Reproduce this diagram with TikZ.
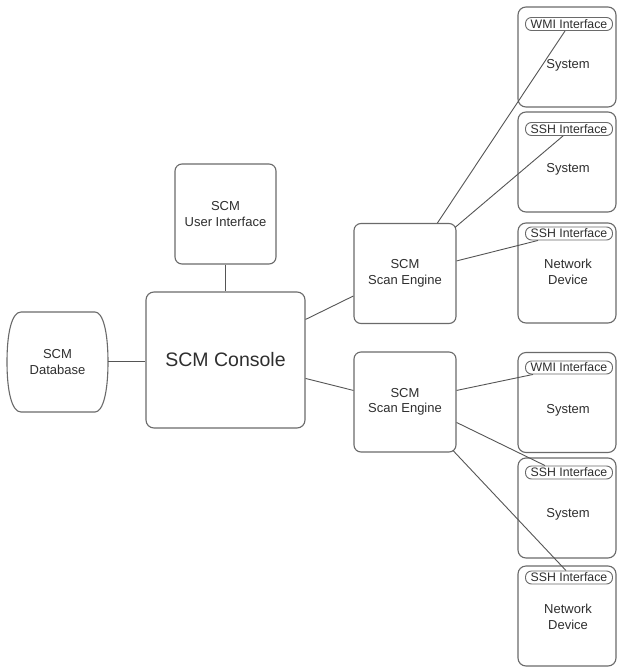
\documentclass[tikz,border=0pt]{standalone}
\usepackage{fontspec}
\setmainfont{Liberation Sans}
\usetikzlibrary{calc}
\definecolor{edge}{HTML}{6A6A6A}
\definecolor{wire}{HTML}{555555}
\definecolor{ink}{HTML}{2E2E2E}
\tikzset{
  box/.style={draw=edge, line width=1.1pt, rounded corners=7pt, inner sep=0pt,
    align=center, text=ink, font=\fontsize{13}{15.5}\selectfont},
  hostbox/.style={box, minimum width=98pt, minimum height=100pt, rounded corners=8pt},
  enginebox/.style={box, minimum width=102pt, minimum height=100pt},
  pill/.style={draw=edge, line width=0.9pt, rounded corners=6pt, inner sep=0pt,
    minimum width=87pt, minimum height=13pt, text=ink,
    text height=8.8pt, text depth=0pt,
    font=\fontsize{12.3}{12.3}\selectfont},
  hosttext/.style={align=center, text=ink, inner sep=0pt,
    font=\fontsize{13}{15.5}\selectfont},
  wirestyle/.style={draw=wire, line width=0.9pt}
}
\begin{document}
\begin{tikzpicture}[x=1pt, y=-1pt]
\useasboundingbox (0,0) rectangle (617,667);
\fill[white] (0,0) rectangle (617,667);

% database: flat top and bottom, bulging sides
\draw[edge, line width=1.1pt]
  (21,312) -- (95,312)
  .. controls (103,312) and (108,332) .. (108,362)
  .. controls (108,392) and (103,412) .. (95,412)
  -- (21,412)
  .. controls (12,412) and (7,392) .. (7,362)
  .. controls (7,332) and (12,312) .. (21,312);
\coordinate (dbr) at (108,361);
\node[hosttext] (dbtext) at (57.5,362) {SCM\\Database};

% console and user interface
\node[box, minimum width=159pt, minimum height=136pt, rounded corners=8pt,
      font=\fontsize{19.5}{22}\selectfont] (console) at (225.5,360) {SCM Console};
\node[box, minimum width=101pt, minimum height=100pt] (ui) at (225.5,214) {SCM\\User Interface};

% scan engines
\node[enginebox] (se1) at (405,273.5) {SCM\\Scan Engine};
\node[enginebox] (se2) at (405,402) {SCM\\Scan Engine};

% target hosts
\node[hostbox] (h1) at (567,57) {};
\node[hostbox] (h2) at (567,162) {};
\node[hostbox] (h3) at (567,273) {};
\node[hostbox] (h4) at (567,402.5) {};
\node[hostbox] (h5) at (567,508) {};
\node[hostbox] (h6) at (567,616) {};

\node[pill, fill=white] (p1) at (569,24) {WMI Interface};
\node[pill, fill=white] (p2) at (569,129) {SSH Interface};
\node[pill, fill=white] (p3) at (569,233.5) {SSH Interface};
\node[pill, fill=white] (p4) at (569,367.5) {WMI Interface};
\node[pill, fill=white] (p5) at (569,472.5) {SSH Interface};
\node[pill, fill=white] (p6) at (569,577.5) {SSH Interface};

\node[hosttext] (t1) at (568,65) {System};
\node[hosttext] (t2) at (568,169) {System};
\node[hosttext] (t3) at (568,272) {Network\\Device};
\node[hosttext] (t4) at (568,410) {System};
\node[hosttext] (t5) at (568,514) {System};
\node[hosttext] (t6) at (568,617) {Network\\Device};

% connectors
\draw[wirestyle] (dbr) -- (console.west |- dbr);
\draw[wirestyle] (ui.south) -- (console.north);
\draw[wirestyle] ($(console.north east)+(0,28)$) -- ($(se1.north west)+(0,73)$);
\draw[wirestyle] ($(console.north east)+(0,87)$) -- ($(se2.north west)+(0,39)$);

\draw[wirestyle] ($(se1.north west)+(84,0)$) -- ($(p1.south)+(-4,0)$);
\draw[wirestyle] ($(se1.north east)+(-1.5,4.5)$) -- ($(p2.south)+(-6,0)$);
\draw[wirestyle] ($(se1.north east)+(0,38)$) -- ($(p3.south)+(-31,0)$);

\draw[wirestyle] ($(se2.north east)+(0,39)$) -- ($(p4.south)+(-36,0)$);
\draw[wirestyle] ($(se2.north east)+(0,71)$) -- ($(p5.north)+(-24,0)$);
\draw[wirestyle] ($(se2.south east)+(-3.5,-2)$) -- ($(p6.north)+(-3,0)$);
\end{tikzpicture}
\end{document}
